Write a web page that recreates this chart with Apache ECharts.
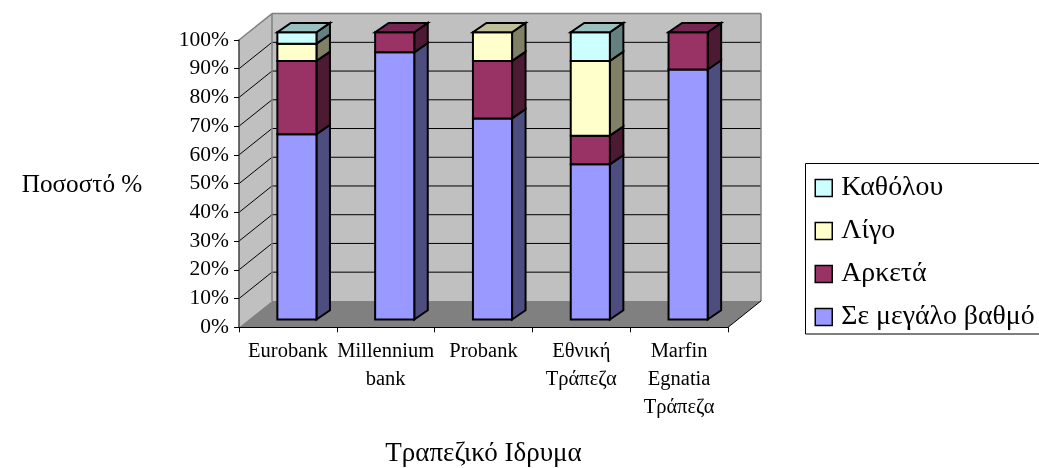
<!DOCTYPE html>
<html>
<head>
<meta charset="utf-8">
<style>html,body{margin:0;padding:0;background:#fff;overflow:hidden}#c{width:1039px;height:468px}</style>
<script src="https://cdn.jsdelivr.net/npm/echarts@6/dist/echarts.min.js"></script>
</head>
<body>
<div id="c"></div>
<script>
const categories = ['Eurobank', 'Millennium\nbank', 'Probank', 'Εθνική\nΤράπεζα', 'Marfin\nEgnatia\nΤράπεζα'];
const seriesNames = ['Σε μεγάλο βαθμό', 'Αρκετά', 'Λίγο', 'Καθόλου'];
const greatExtent = [64.5, 93, 70, 54, 87];
const quiteALot = [25.5, 7, 20, 10, 13];
const aLittle = [6, 0, 10, 26, 0];
const notAtAll = [4, 0, 0, 10, 0];
const seriesValues = [greatExtent, quiteALot, aLittle, notAtAll];
const yTicks = [0, 10, 20, 30, 40, 50, 60, 70, 80, 90, 100];

// Face colours of each stacked block: front, top, side.
const faceColors = [
  ['#9999FF', '#7373BF', '#4D4D80'],
  ['#993366', '#732650', '#4D1A33'],
  ['#FFFFCC', '#BFBF99', '#808066'],
  ['#CCFFFF', '#99BFBF', '#668080']
];

// Oblique projection: how far the back wall sits from the front plane.
const DEPTH_X = 33, DEPTH_Y = -26.4;
// The bars stand a little behind the front plane and have their own depth.
const BAR_SHIFT_X = 9, BAR_SHIFT_Y = -7.8, BAR_DX = 13.5, BAR_DY = -9.3;
const BAR_RATIO = 0.4;

const serifFont = '"Liberation Serif"';
const poly = (points, fill, stroke, lineWidth) => ({
  type: 'polygon', shape: { points },
  style: { fill: fill, stroke: stroke || null, lineWidth: lineWidth || 0 }
});
const line = (a, b, stroke, lineWidth) => ({
  type: 'line', shape: { x1: a[0], y1: a[1], x2: b[0], y2: b[1] },
  style: { stroke, lineWidth, fill: null }
});

function renderWalls(params, api) {
  const cs = params.coordSys;
  const x0 = cs.x, x1 = cs.x + cs.width;
  const y0 = api.coord([0, 0])[1], yTop = api.coord([0, 100])[1];
  const children = [
    // left wall, back wall, floor
    poly([[x0, y0], [x0, yTop], [x0 + DEPTH_X, yTop + DEPTH_Y], [x0 + DEPTH_X, y0 + DEPTH_Y]], '#C0C0C0'),
    poly([[x0 + DEPTH_X, yTop + DEPTH_Y], [x1 + DEPTH_X, yTop + DEPTH_Y], [x1 + DEPTH_X, y0 + DEPTH_Y], [x0 + DEPTH_X, y0 + DEPTH_Y]], '#C0C0C0'),
    poly([[x0, y0], [x1, y0], [x1 + DEPTH_X, y0 + DEPTH_Y], [x0 + DEPTH_X, y0 + DEPTH_Y]], '#808080')
  ];
  yTicks.forEach(t => {
    if (t === 0 || t === 100) return;
    const y = api.coord([0, t])[1];
    children.push(line([x0, y], [x0 + DEPTH_X, y + DEPTH_Y], '#000', 1));
    children.push(line([x0 + DEPTH_X, y + DEPTH_Y], [x1 + DEPTH_X, y + DEPTH_Y], '#000', 1));
  });
  const gray = '#808080';
  children.push(line([x0, yTop], [x0 + DEPTH_X, yTop + DEPTH_Y], gray, 1.5));
  children.push(line([x0 + DEPTH_X, yTop + DEPTH_Y], [x1 + DEPTH_X, yTop + DEPTH_Y], gray, 1.5));
  children.push(line([x1 + DEPTH_X, yTop + DEPTH_Y], [x1 + DEPTH_X, y0 + DEPTH_Y], gray, 1.5));
  children.push(line([x0 + DEPTH_X, yTop + DEPTH_Y], [x0 + DEPTH_X, y0 + DEPTH_Y], gray, 1.5));
  children.push(line([x1, y0], [x1 + DEPTH_X, y0 + DEPTH_Y], '#000', 1));
  return { type: 'group', children };
}

function makeBlockRenderer(seriesIndex) {
  return function (params, api) {
    const cat = api.value(0), lo = api.value(1), hi = api.value(2);
    if (hi <= lo) return null;
    const w = api.size([1, 0])[0] * BAR_RATIO;
    const cx = api.coord([cat, 0])[0] + BAR_SHIFT_X;
    const yLo = api.coord([cat, lo])[1] + BAR_SHIFT_Y;
    const yHi = api.coord([cat, hi])[1] + BAR_SHIFT_Y;
    const l = cx - w / 2, r = cx + w / 2;
    const [front, top, side] = faceColors[seriesIndex];
    const k = '#000', lw = 2;
    const children = [
      poly([[r, yLo], [r + BAR_DX, yLo + BAR_DY], [r + BAR_DX, yHi + BAR_DY], [r, yHi]], side, k, lw),
      poly([[l, yLo], [r, yLo], [r, yHi], [l, yHi]], front, k, lw)
    ];
    if (hi >= 99.9) {
      children.push(poly([[l, yHi], [r, yHi], [r + BAR_DX, yHi + BAR_DY], [l + BAR_DX, yHi + BAR_DY]], top, k, lw));
    }
    return { type: 'group', children };
  };
}

const blockSeries = seriesNames.map((name, s) => ({
  name,
  type: 'custom',
  coordinateSystem: 'cartesian2d',
  renderItem: makeBlockRenderer(s),
  clip: false,
  z: 3,
  encode: { x: 0, y: [1, 2] },
  itemStyle: { color: faceColors[s][0] },
  data: categories.map((_, c) => {
    let base = 0;
    for (let i = 0; i < s; i++) base += seriesValues[i][c];
    return [c, base, base + seriesValues[s][c]];
  })
}));

const chart = echarts.init(document.getElementById('c'), null, { renderer: 'canvas' });
chart.setOption({
  animation: false,
  backgroundColor: '#fff',
  textStyle: { fontFamily: serifFont },
  grid: { left: 239, top: 40, width: 489, height: 287.3, containLabel: false, outerBoundsMode: 'none' },
  legend: {
    orient: 'vertical',
    left: 805.5,
    top: 163.5,
    padding: [10.5, 60, 3, 9],
    itemGap: 15,
    itemWidth: 17,
    itemHeight: 17,
    borderColor: '#000',
    borderWidth: 1,
    backgroundColor: '#fff',
    icon: 'rect',
    itemStyle: { borderColor: '#000', borderWidth: 1.5 },
    textStyle: { fontFamily: serifFont, fontSize: 27.8, color: '#000', lineHeight: 23, padding: [0, 0, 0, 4] },
    data: seriesNames.slice().reverse()
  },
  xAxis: {
    type: 'category',
    data: categories,
    z: 4,
    name: 'Τραπεζικό Ιδρυμα',
    nameLocation: 'middle',
    nameGap: 113,
    nameTextStyle: { fontFamily: serifFont, fontSize: 27, color: '#000' },
    axisLine: { lineStyle: { color: '#000', width: 1 } },
    axisTick: { show: true, length: 5, lineStyle: { color: '#000', width: 1 }, alignWithLabel: false },
    axisLabel: { interval: 0, color: '#000', fontFamily: serifFont, fontSize: 20.5, lineHeight: 28, margin: 10, hideOverlap: false }
  },
  yAxis: {
    type: 'value',
    min: 0,
    max: 100,
    interval: 10,
    z: 4,
    name: 'Ποσοστό %',
    nameLocation: 'middle',
    nameRotate: 0,
    nameGap: 157,
    nameTextStyle: { fontFamily: serifFont, fontSize: 25.2, color: '#000', align: 'center', verticalAlign: 'top', lineHeight: 4 },
    axisLine: { show: true, lineStyle: { color: '#404040', width: 1.5 } },
    axisTick: { show: true, length: 5, lineStyle: { color: '#000', width: 1 } },
    axisLabel: { color: '#000', fontFamily: serifFont, fontSize: 21.5, margin: 10, formatter: '{value}%' },
    splitLine: { show: false }
  },
  series: [
    { type: 'custom', coordinateSystem: 'cartesian2d', renderItem: renderWalls, clip: false, z: 1, silent: true, data: [[0, 0]] }
  ].concat(blockSeries)
});
</script>
</body>
</html>
